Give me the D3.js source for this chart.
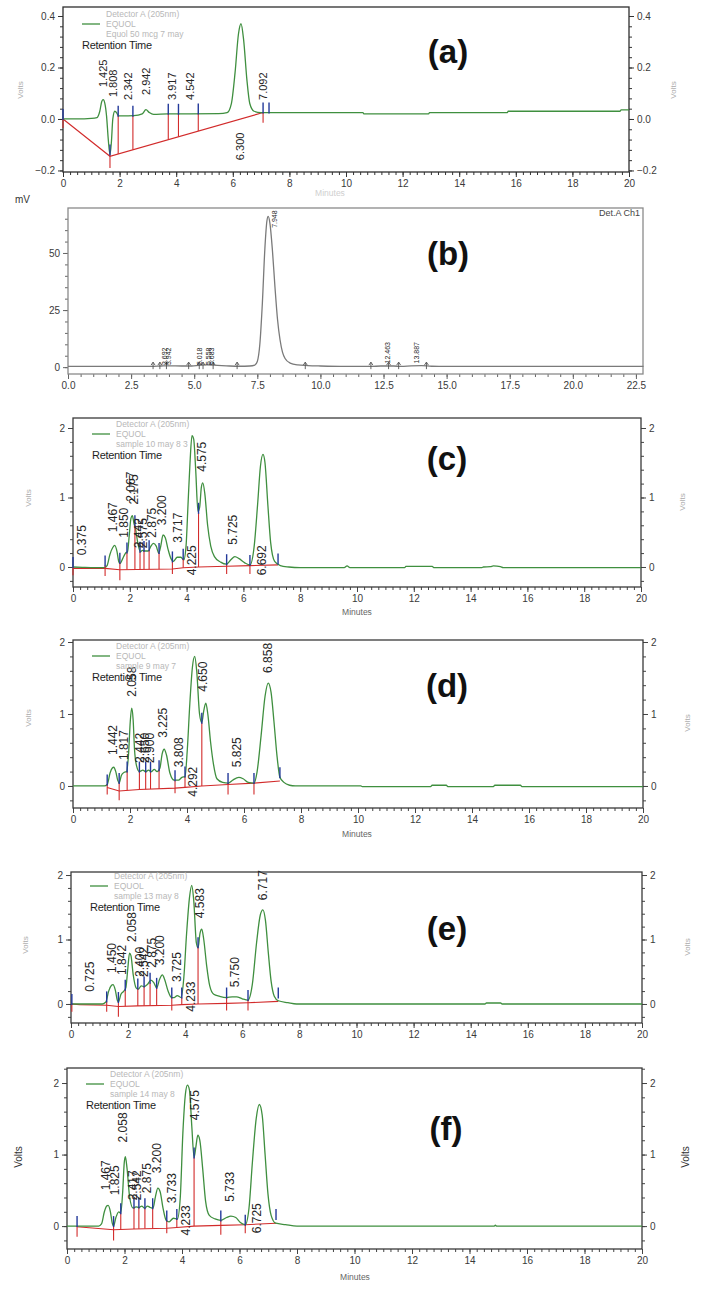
<!DOCTYPE html>
<html>
<head>
<meta charset="utf-8">
<script src="https://cdn.jsdelivr.net/npm/d3@7"></script>
<style>
  body { margin: 0; background: #fff; }
  svg { display: block; }
  text { font-family: "Liberation Sans", Arial, sans-serif; }
</style>
</head>
<body>
<svg id="chart" width="706" height="1298"></svg>
<script>
// ---------- tick values ----------
var minuteTicks = [0, 2, 4, 6, 8, 10, 12, 14, 16, 18, 20];
var minuteTicksB = [0, 2.5, 5, 7.5, 10, 12.5, 15, 17.5, 20, 22.5];
var voltTicksA = [-0.2, 0, 0.2, 0.4];
var voltTicks = [0, 1, 2];
var mvTicksB = [0, 25, 50];

// ---------- (a) equol standard: [minutes, volts] ----------
var traceA = [[0,0],[0.5,0],[1.0,0.002],[1.2,0.005],[1.3,0.03],[1.37,0.068],[1.42,0.075],[1.48,0.06],[1.54,0.01],[1.6,-0.08],[1.66,-0.138],[1.71,-0.09],[1.76,0.0],[1.83,0.03],[1.89,0.025],[1.96,0.012],[2.1,0.012],[2.5,0.013],[2.8,0.02],[2.93,0.036],[3.05,0.025],[3.2,0.018],[3.7,0.02],[4.5,0.02],[5.5,0.021],[5.8,0.025],[5.95,0.06],[6.08,0.18],[6.2,0.33],[6.29,0.37],[6.38,0.31],[6.5,0.15],[6.6,0.06],[6.75,0.03],[7.0,0.025],[10.6,0.025],[10.63,0.02],[12.92,0.02],[12.95,0.025],[15.7,0.025],[15.73,0.03],[19.68,0.03],[19.72,0.035],[20,0.035]];
var baseA = [[0,0],[1.66,-0.145],[7.07,0.025]];
// [minutes, volts at curve, volts at baseline end]
var cutsA = [[0,0,-0.035],[1.66,-0.138,-0.19],[1.95,0.013,-0.136],[2.47,0.013,-0.12],[3.72,0.02,-0.08],[4.08,0.02,-0.069],[4.78,0.021,-0.047],[7.07,0.025,-0.015],[7.28,0.025,0.025]];
// [minutes, retention time label, volts at foot of label]
var peaksA = [[1.41,"1.425",0.124],[1.77,"1.808",0.085],[2.3,"2.342",0.074],[2.93,"2.942",0.093],[3.86,"3.917",0.074],[4.5,"4.542",0.074],[7.07,"7.092",0.074],[6.25,"6.300",-0.16]];

// ---------- (b) Det.A Ch1: [minutes, mV] ----------
var traceB = [[0,0.3],[3.3,0.3],[3.7,0.5],[4.0,0.6],[4.5,0.5],[4.9,0.5],[5.2,0.8],[5.5,1.0],[5.8,0.9],[6.4,0.5],[6.8,0.4],[7.2,0.5],[7.4,0.9],[7.5,2.5],[7.6,10],[7.7,28],[7.8,52],[7.88,64],[7.93,66],[8.0,63],[8.1,51],[8.2,35],[8.3,21],[8.4,12],[8.5,6.5],[8.6,3.8],[8.8,1.8],[9.1,1.0],[9.5,0.7],[10,0.5],[11,0.3],[12,0.3],[12.4,0.5],[12.9,0.5],[13.2,0.3],[13.6,0.6],[14.0,0.7],[14.4,0.4],[15,0.3],[22.8,0.3]];
var marksB = [3.37,3.64,3.9,4.78,5.2,5.35,5.75,6.7,9.4,12.0,12.7,13.1,14.2];
var peaksB = [[3.83,"3.692",0.9],[3.97,"3.942",0.9],[5.2,"5.018",0.9],[5.55,"5.558",0.9],[5.7,"5.683",0.9],[8.18,"7.948",61],[12.65,"12.463",1.6],[13.8,"13.887",1.6]];

// ---------- (c) sample 10 may 8 3 ----------
var traceC = [[0,0],[0.4,-0.005],[1.1,-0.01],[1.2,0.02],[1.3,0.18],[1.4,0.28],[1.47,0.31],[1.55,0.22],[1.61,0.08],[1.66,0.05],[1.75,0.12],[1.85,0.2],[1.92,0.22],[1.98,0.45],[2.04,0.7],[2.09,0.74],[2.15,0.62],[2.2,0.55],[2.28,0.35],[2.37,0.22],[2.45,0.24],[2.55,0.23],[2.65,0.23],[2.73,0.29],[2.83,0.34],[2.93,0.3],[3.02,0.2],[3.09,0.3],[3.17,0.46],[3.25,0.42],[3.35,0.25],[3.45,0.12],[3.53,0.08],[3.67,0.14],[3.8,0.14],[3.9,0.1],[3.98,0.3],[4.05,0.9],[4.12,1.5],[4.19,1.89],[4.25,1.84],[4.32,1.4],[4.4,0.8],[4.46,0.86],[4.52,1.15],[4.57,1.21],[4.64,1.06],[4.74,0.6],[4.85,0.3],[4.98,0.15],[5.2,0.07],[5.4,0.04],[5.55,0.1],[5.7,0.15],[5.85,0.12],[6.05,0.06],[6.23,0.03],[6.38,0.3],[6.5,0.9],[6.6,1.45],[6.69,1.62],[6.76,1.5],[6.86,0.9],[6.96,0.35],[7.1,0.08],[7.3,0.02],[7.6,0],[8.0,-0.01],[9.55,-0.01],[9.65,0.015],[9.75,-0.01],[11.68,-0.01],[11.72,0.01],[12.65,0.01],[12.7,-0.01],[14.4,-0.01],[14.45,0.0],[14.7,0.005],[14.8,0.015],[15.05,0.005],[15.15,-0.01],[20,-0.01]];
var baseC = [[0,-0.02],[1.13,-0.02],[1.65,-0.04],[3.5,-0.03],[3.88,-0.01],[4.42,0],[5.41,0.01],[6.23,0.02],[7.22,0.03]];
var cutsC = [[0,0,-0.12],[1.13,0.02,-0.13],[1.65,0.06,-0.19],[1.9,0.21,-0.035],[2.18,0.6,-0.035],[2.36,0.22,-0.034],[2.5,0.23,-0.033],[2.68,0.24,-0.032],[3.03,0.2,-0.031],[3.5,0.08,-0.1],[3.88,0.12,-0.01],[4.42,0.78,0],[5.41,0.04,-0.1],[6.23,0.03,-0.1],[7.22,0.05,0.05]];
var peaksC = [[0.31,"0.375",0.17],[1.41,"1.467",0.5],[1.8,"1.850",0.42],[2.03,"2.067",0.94],[2.15,"2.175",0.9],[2.3,"2.442",0.27],[2.46,"2.575",0.27],[2.78,"2.875",0.42],[3.13,"3.200",0.6],[3.7,"3.717",0.35],[4.19,"4.225",-0.12],[4.54,"4.575",1.37],[5.63,"5.725",0.32],[6.65,"6.692",-0.12]];

// ---------- (d) sample 9 may 7 ----------
var traceD = [[0,0],[1.1,0],[1.2,0.02],[1.3,0.18],[1.38,0.25],[1.43,0.26],[1.5,0.2],[1.57,0.08],[1.62,0.04],[1.7,0.15],[1.8,0.19],[1.88,0.2],[1.95,0.45],[2.01,0.9],[2.06,1.08],[2.11,0.92],[2.16,0.5],[2.23,0.28],[2.33,0.2],[2.45,0.22],[2.55,0.2],[2.65,0.22],[2.75,0.2],[2.85,0.23],[2.95,0.2],[3.05,0.25],[3.13,0.45],[3.2,0.51],[3.28,0.43],[3.4,0.18],[3.55,0.08],[3.7,0.08],[3.82,0.12],[3.93,0.13],[4.01,0.5],[4.1,1.15],[4.19,1.65],[4.27,1.8],[4.34,1.6],[4.44,1.0],[4.52,0.88],[4.59,1.05],[4.66,1.15],[4.73,1.0],[4.83,0.6],[4.93,0.3],[5.05,0.1],[5.25,0.05],[5.45,0.04],[5.6,0.08],[5.82,0.12],[5.97,0.1],[6.15,0.05],[6.35,0.04],[6.46,0.2],[6.6,0.7],[6.74,1.25],[6.85,1.43],[6.95,1.3],[7.05,0.9],[7.15,0.45],[7.26,0.12],[7.4,0.05],[7.6,0.01],[7.8,0],[10.1,0],[10.15,-0.01],[12.55,-0.01],[12.6,0.01],[13.1,0.01],[13.15,-0.01],[14.75,-0.01],[14.8,0.01],[15.7,0.01],[15.75,-0.01],[20,-0.01]];
var baseD = [[1.2,-0.02],[1.62,-0.07],[2.33,-0.05],[3.58,-0.03],[3.93,-0.02],[4.52,0],[5.44,0.02],[6.35,0.04],[7.26,0.07]];
var cutsD = [[1.2,0.02,-0.12],[1.62,0.04,-0.2],[1.9,0.2,-0.06],[2.33,0.2,-0.05],[2.55,0.2,-0.045],[2.72,0.2,-0.042],[3.02,0.22,-0.038],[3.58,0.08,-0.1],[3.93,0.13,-0.02],[4.52,0.88,0],[5.44,0.04,-0.12],[6.35,0.04,-0.12],[7.26,0.12,0.12]];
var peaksD = [[1.4,"1.442",0.43],[1.79,"1.817",0.36],[2.07,"2.058",1.24],[2.35,"2.442",0.32],[2.5,"2.650",0.32],[2.7,"2.900",0.32],[3.16,"3.225",0.67],[3.72,"3.808",0.26],[4.21,"4.292",-0.15],[4.56,"4.650",1.31],[5.75,"5.825",0.26],[6.84,"6.858",1.57]];

// ---------- (e) sample 13 may 8 ----------
var traceE = [[0,0],[1.1,0],[1.22,0.03],[1.32,0.2],[1.42,0.29],[1.47,0.3],[1.55,0.22],[1.62,0.06],[1.66,0.03],[1.75,0.15],[1.85,0.2],[1.92,0.25],[1.99,0.55],[2.05,0.79],[2.1,0.75],[2.18,0.45],[2.28,0.25],[2.36,0.23],[2.46,0.28],[2.56,0.27],[2.67,0.3],[2.8,0.37],[2.9,0.33],[3.0,0.25],[3.1,0.38],[3.2,0.45],[3.28,0.38],[3.4,0.2],[3.52,0.1],[3.62,0.1],[3.72,0.13],[3.86,0.1],[3.95,0.4],[4.05,1.1],[4.15,1.65],[4.23,1.84],[4.3,1.6],[4.39,0.95],[4.45,0.87],[4.52,1.1],[4.58,1.16],[4.65,1.0],[4.75,0.6],[4.86,0.28],[5.0,0.15],[5.2,0.12],[5.45,0.1],[5.65,0.11],[5.8,0.11],[6.0,0.08],[6.2,0.06],[6.35,0.3],[6.5,0.95],[6.63,1.38],[6.72,1.46],[6.81,1.3],[6.91,0.8],[7.01,0.35],[7.12,0.12],[7.26,0.05],[7.6,0.02],[7.9,0],[14.5,0],[14.55,0.015],[15.05,0.015],[15.1,0],[20,0]];
var baseE = [[0,0],[0.3,-0.01],[1.25,-0.02],[1.66,-0.04],[2.34,-0.03],[3.53,-0.02],[3.88,-0.01],[4.45,0],[5.45,0.01],[6.2,0.02],[7.26,0.04]];
var cutsE = [[0.03,0,-0.12],[1.25,0.04,-0.12],[1.66,0.03,-0.2],[1.9,0.22,-0.035],[2.34,0.24,-0.03],[2.56,0.27,-0.027],[2.77,0.33,-0.025],[3.0,0.25,-0.022],[3.53,0.1,-0.1],[3.88,0.1,-0.01],[4.45,0.88,0],[5.45,0.1,-0.1],[6.2,0.06,-0.1],[7.26,0.1,0.1]];
var peaksE = [[0.67,"0.725",0.19],[1.44,"1.450",0.48],[1.79,"1.842",0.45],[2.14,"2.058",0.96],[2.42,"2.400",0.42],[2.56,"2.542",0.42],[2.84,"2.875",0.56],[3.12,"3.200",0.6],[3.71,"3.725",0.34],[4.2,"4.233",-0.12],[4.52,"4.583",1.33],[5.74,"5.750",0.26],[6.72,"6.717",1.61]];

// ---------- (f) sample 14 may 8 ----------
var traceF = [[0,0],[1.1,0],[1.2,0.03],[1.3,0.2],[1.38,0.28],[1.43,0.29],[1.51,0.2],[1.57,0.05],[1.62,0.0],[1.7,0.12],[1.8,0.2],[1.87,0.18],[1.94,0.5],[1.99,0.88],[2.03,0.97],[2.09,0.8],[2.18,0.4],[2.3,0.25],[2.4,0.27],[2.5,0.26],[2.6,0.28],[2.7,0.25],[2.8,0.28],[2.9,0.26],[2.99,0.25],[3.08,0.42],[3.16,0.53],[3.24,0.48],[3.34,0.25],[3.45,0.08],[3.55,0.06],[3.7,0.11],[3.84,0.1],[3.94,0.4],[4.03,1.3],[4.12,1.85],[4.19,1.97],[4.26,1.9],[4.34,1.4],[4.42,0.96],[4.48,1.1],[4.55,1.27],[4.62,1.2],[4.72,0.8],[4.82,0.35],[4.95,0.15],[5.15,0.1],[5.35,0.08],[5.55,0.12],[5.7,0.14],[5.87,0.12],[6.03,0.05],[6.2,0.02],[6.33,0.25],[6.45,0.9],[6.58,1.5],[6.69,1.7],[6.79,1.55],[6.89,1.0],[6.99,0.45],[7.1,0.15],[7.26,0.04],[7.6,0.02],[8.0,0],[14.85,0],[14.9,0.012],[14.95,0],[20,0]];
var baseF = [[0.35,-0.01],[1.62,-0.05],[2.33,-0.04],[3.47,-0.03],[3.82,-0.02],[4.42,0],[5.35,0.01],[6.2,0.02],[7.27,0.04]];
var cutsF = [[0.35,0,-0.15],[1.62,0,-0.2],[1.87,0.18,-0.045],[2.33,0.26,-0.04],[2.5,0.26,-0.038],[2.71,0.25,-0.035],[2.98,0.25,-0.032],[3.47,0.08,-0.1],[3.82,0.1,-0.02],[4.42,0.96,0],[5.35,0.08,-0.12],[6.2,0.02,-0.1],[7.27,0.1,0.1]];
var peaksF = [[1.36,"1.467",0.5],[1.67,"1.825",0.43],[1.95,"2.058",1.17],[2.3,"2.417",0.36],[2.43,"2.542",0.36],[2.78,"2.875",0.46],[3.13,"3.200",0.74],[3.65,"3.733",0.32],[4.14,"4.233",-0.13],[4.45,"4.575",1.48],[5.67,"5.733",0.34],[6.61,"6.725",-0.1]];

var GREEN = "#3f8f3f", RED = "#d22b2b", BLUE = "#23399a";
var svg = d3.select("#chart");

function styleAxis(sel, color) {
    sel.select(".domain").remove();
    sel.selectAll("line").attr("stroke", color);
    sel.selectAll("text").attr("fill", "#3a3a3a").attr("font-size", 10);
}

function drawPanel(p) {
    var x = d3.scaleLinear().domain(p.xDom).range([p.l, p.r]);
    var y = d3.scaleLinear().domain(p.yDom).range([p.b, p.t]);
    var g = svg.append("g");

    // minor ticks first, major on top
    g.append("g").attr("transform", "translate(0," + p.b + ")")
        .call(d3.axisBottom(x).tickValues(p.xMinor).tickFormat("").tickSize(3))
        .call(styleAxis, p.axisColor);
    g.append("g").attr("transform", "translate(0," + p.b + ")")
        .call(d3.axisBottom(x).tickValues(p.xTicks).tickFormat(p.xFmt).tickSize(5).tickPadding(3))
        .call(styleAxis, p.axisColor);
    g.append("g").attr("transform", "translate(" + p.l + ",0)")
        .call(d3.axisLeft(y).tickValues(p.yMinor).tickFormat("").tickSize(3))
        .call(styleAxis, p.axisColor);
    g.append("g").attr("transform", "translate(" + p.l + ",0)")
        .call(d3.axisLeft(y).tickValues(p.yTicks).tickFormat(p.yFmt).tickSize(5).tickPadding(3))
        .call(styleAxis, p.axisColor);
    if (p.rightAxis) {
        g.append("g").attr("transform", "translate(" + p.r + ",0)")
            .call(d3.axisRight(y).tickValues(p.yMinor).tickFormat("").tickSize(3))
            .call(styleAxis, p.axisColor);
        g.append("g").attr("transform", "translate(" + p.r + ",0)")
            .call(d3.axisRight(y).tickValues(p.yTicks).tickFormat(p.yFmt).tickSize(5).tickPadding(3))
            .call(styleAxis, p.axisColor);
    }

    // frame
    g.append("rect")
        .attr("x", p.l).attr("y", p.t)
        .attr("width", p.r - p.l).attr("height", p.b - p.t)
        .attr("fill", "none").attr("stroke", p.boxColor).attr("stroke-width", 1.3);

    var line = d3.line()
        .x(function(d) { return x(d[0]); })
        .y(function(d) { return y(d[1]); });

    // integration baseline
    if (p.base) {
        g.append("path").datum(p.base)
            .attr("d", line)
            .attr("fill", "none").attr("stroke", RED).attr("stroke-width", 1.1);
    }

    // detector trace
    g.append("path").datum(p.trace)
        .attr("d", line.curve(d3.curveMonotoneX))
        .attr("fill", "none").attr("stroke", p.traceColor).attr("stroke-width", 1.3);

    // peak start / end markers
    if (p.cuts) {
        g.selectAll(".cut").data(p.cuts.filter(function(c) { return c[2] < c[1]; }))
            .join("line").attr("class", "cut")
            .attr("x1", function(c) { return x(c[0]); }).attr("x2", function(c) { return x(c[0]); })
            .attr("y1", function(c) { return y(c[1]); }).attr("y2", function(c) { return y(c[2]); })
            .attr("stroke", RED).attr("stroke-width", 1.1);
        g.selectAll(".tic").data(p.cuts)
            .join("line").attr("class", "tic")
            .attr("x1", function(c) { return x(c[0]); }).attr("x2", function(c) { return x(c[0]); })
            .attr("y1", function(c) { return y(c[1]) - 10; }).attr("y2", function(c) { return y(c[1]) + 1; })
            .attr("stroke", BLUE).attr("stroke-width", 1.4);
    }

    // small arrow marks (panel b)
    if (p.marks) {
        g.selectAll(".mk").data(p.marks)
            .join("path").attr("class", "mk")
            .attr("d", function(m) {
                var mx = x(m), my = y(0);
                return "M" + mx + "," + (my + 2) + "V" + (my - 5) +
                       "M" + (mx - 2) + "," + (my - 2) + "L" + mx + "," + (my - 5) + "L" + (mx + 2) + "," + (my - 2);
            })
            .attr("fill", "none").attr("stroke", "#555").attr("stroke-width", 0.9);
    }

    // retention time labels
    g.selectAll(".pk").data(p.peaks)
        .join("text").attr("class", "pk")
        .attr("transform", function(d) { return "translate(" + x(d[0]) + "," + y(d[2]) + ") rotate(-90)"; })
        .attr("dy", "0.36em")
        .attr("font-size", p.pkSize)
        .attr("fill", "#262626")
        .text(function(d) { return d[1]; });

    // legend block
    if (p.legend) {
        var lx = p.l + 19, ly = p.legY;
        g.append("line").attr("x1", lx).attr("x2", lx + 18).attr("y1", ly).attr("y2", ly)
            .attr("stroke", GREEN).attr("stroke-width", 1.3);
        g.selectAll(".lg").data(p.legend)
            .join("text").attr("class", "lg")
            .attr("x", lx + 24)
            .attr("y", function(d, i) { return ly + (i - 1) * 10; })
            .attr("dy", "0.35em")
            .attr("font-size", 8.5)
            .attr("fill", "#b8b8b8")
            .text(function(d) { return d; });
        g.append("text").attr("x", lx).attr("y", ly + 21).attr("dy", "0.35em")
            .attr("font-size", 11).attr("fill", "#1e1e1e").attr("letter-spacing", -0.3)
            .text("Retention Time");
    }

    // panel letter
    g.append("text").attr("x", p.letterX).attr("y", p.letterY)
        .attr("text-anchor", "middle").attr("dominant-baseline", "central")
        .attr("font-family", "Lato, 'Open Sans', sans-serif").attr("font-weight", "bold")
        .attr("font-size", 33).attr("fill", "#111")
        .text(p.letter);

    // axis titles
    if (p.volts) {
        p.volts.forEach(function(v) {
            g.append("text")
                .attr("transform", "translate(" + v[0] + "," + v[1] + ") rotate(-90)")
                .attr("text-anchor", "middle").attr("dy", "0.35em")
                .attr("font-size", p.voltsSize).attr("fill", p.voltsColor)
                .text("Volts");
        });
    }
    if (p.minutes) {
        g.append("text").attr("x", p.minutes[0]).attr("y", p.minutes[1])
            .attr("text-anchor", "middle").attr("dy", "0.35em")
            .attr("font-size", 8.5).attr("fill", p.minutesColor || "#666")
            .text("Minutes");
    }
}

var fmt1 = d3.format(".1f");
var fmtInt = d3.format("d");
var minorMin = d3.range(0, 20.01, 0.25);
var minorVolts = d3.range(-0.2, 2.21, 0.2);

drawPanel({
    l: 63, r: 629, t: 7, b: 172, xDom: [0, 20], yDom: [-0.206, 0.435],
    xTicks: minuteTicks, xMinor: minorMin, xFmt: fmtInt,
    yTicks: voltTicksA, yMinor: d3.range(-0.2, 0.41, 0.04), yFmt: fmt1,
    rightAxis: true, axisColor: "#333", boxColor: "#2e2e2e", traceColor: GREEN,
    trace: traceA, base: baseA, cuts: cutsA, peaks: peaksA, pkSize: 11,
    legend: ["Detector A (205nm)", "EQUOL", "Equol 50 mcg 7 may"], legY: 24,
    letter: "(a)", letterX: 448, letterY: 51,
    volts: [[20, 90], [673, 90]], voltsSize: 8, voltsColor: "#aaa",
    minutes: [330, 193], minutesColor: "#cfcfcf"
});

drawPanel({
    l: 68, r: 643, t: 208, b: 374, xDom: [0, 22.78], yDom: [-3.0, 69.7],
    xTicks: minuteTicksB, xMinor: d3.range(0, 22.51, 0.5), xFmt: fmt1,
    yTicks: mvTicksB, yMinor: d3.range(0, 66, 5), yFmt: fmtInt,
    rightAxis: false, axisColor: "#666", boxColor: "#8a8a8a", traceColor: "#7a7a7a",
    trace: traceB, marks: marksB, peaks: peaksB, pkSize: 7,
    letter: "(b)", letterX: 448, letterY: 253
});
svg.append("text").attr("x", 15).attr("y", 203).attr("font-size", 10).attr("fill", "#333").text("mV");
svg.append("text").attr("x", 640).attr("y", 216).attr("text-anchor", "end")
    .attr("font-size", 9).attr("fill", "#444").text("Det.A Ch1");

drawPanel({
    l: 73, r: 641, t: 418, b: 587, xDom: [0, 20], yDom: [-0.288, 2.144],
    xTicks: minuteTicks, xMinor: minorMin, xFmt: fmtInt,
    yTicks: voltTicks, yMinor: minorVolts.filter(function(v) { return v < 2.1; }), yFmt: fmtInt,
    rightAxis: true, axisColor: "#444", boxColor: "#3a3a3a", traceColor: GREEN,
    trace: traceC, base: baseC, cuts: cutsC, peaks: peaksC, pkSize: 12,
    legend: ["Detector A (205nm)", "EQUOL", "sample 10 may 8 3"], legY: 434,
    letter: "(c)", letterX: 447, letterY: 458,
    volts: [[28, 498], [682, 502]], voltsSize: 8, voltsColor: "#aaa",
    minutes: [357, 612]
});

drawPanel({
    l: 73, r: 643, t: 640, b: 808, xDom: [0, 20], yDom: [-0.306, 2.028],
    xTicks: minuteTicks, xMinor: minorMin, xFmt: fmtInt,
    yTicks: voltTicks, yMinor: minorVolts.filter(function(v) { return v < 2.02; }), yFmt: fmtInt,
    rightAxis: true, axisColor: "#444", boxColor: "#3a3a3a", traceColor: GREEN,
    trace: traceD, base: baseD, cuts: cutsD, peaks: peaksD, pkSize: 12,
    legend: ["Detector A (205nm)", "EQUOL", "sample 9 may 7"], legY: 656,
    letter: "(d)", letterX: 447, letterY: 685,
    volts: [[28, 718], [687, 723]], voltsSize: 8, voltsColor: "#aaa",
    minutes: [357, 834]
});

drawPanel({
    l: 71, r: 642, t: 872, b: 1023, xDom: [0, 20], yDom: [-0.295, 2.047],
    xTicks: minuteTicks, xMinor: minorMin, xFmt: fmtInt,
    yTicks: voltTicks, yMinor: minorVolts.filter(function(v) { return v < 2.04; }), yFmt: fmtInt,
    rightAxis: true, axisColor: "#444", boxColor: "#3a3a3a", traceColor: GREEN,
    trace: traceE, base: baseE, cuts: cutsE, peaks: peaksE, pkSize: 12,
    legend: ["Detector A (205nm)", "EQUOL", "sample 13 may 8"], legY: 886,
    letter: "(e)", letterX: 447, letterY: 928,
    volts: [[25, 945], [687, 947]], voltsSize: 8, voltsColor: "#aaa"
});

drawPanel({
    l: 67, r: 642, t: 1068, b: 1249, xDom: [0, 20], yDom: [-0.32, 2.21],
    xTicks: minuteTicks, xMinor: minorMin, xFmt: fmtInt,
    yTicks: voltTicks, yMinor: minorVolts, yFmt: fmtInt,
    rightAxis: true, axisColor: "#444", boxColor: "#3a3a3a", traceColor: GREEN,
    trace: traceF, base: baseF, cuts: cutsF, peaks: peaksF, pkSize: 12,
    legend: ["Detector A (205nm)", "EQUOL", "sample 14 may 8"], legY: 1084,
    letter: "(f)", letterX: 446, letterY: 1128,
    volts: [[18, 1157], [685, 1157]], voltsSize: 10, voltsColor: "#333",
    minutes: [355, 1277]
});
</script>
</body>
</html>
